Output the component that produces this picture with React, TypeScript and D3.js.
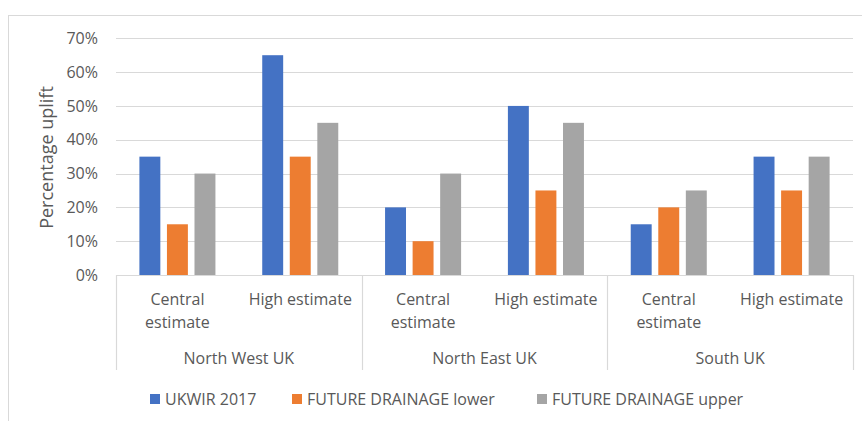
import React from "react";
import * as d3 from "d3";

// Regions (outer category level) and estimate types (inner level)
const regions = ["North West UK", "North East UK", "South UK"];
const estimateLines = [["Central", "estimate"], ["High estimate"]];

// Series values in percent, one per region × estimate
const seriesNames = ["UKWIR 2017", "FUTURE DRAINAGE lower", "FUTURE DRAINAGE upper"];
const seriesColors = ["#4472C4", "#ED7D31", "#A5A5A5"];
const ukwir2017 = [35, 65, 20, 50, 15, 35];
const futureDrainageLower = [15, 35, 10, 25, 20, 25];
const futureDrainageUpper = [30, 45, 30, 45, 25, 35];

const yTicks = [0, 10, 20, 30, 40, 50, 60, 70];

const W = 862;
const H = 421;
const plot = { left: 116, right: 853, top: 38.3, bottom: 275 };
const TEXT = "#595959";
const GRID = "#D9D9D9";
const FONT = "'Open Sans', sans-serif";

export default function App() {
  const series = [ukwir2017, futureDrainageLower, futureDrainageUpper];
  const cells = regions.flatMap((r, ri) => estimateLines.map((_, ei) => `${ri}-${ei}`));

  const x0 = d3.scaleBand<string>().domain(cells).range([plot.left, plot.right]);
  const bw = x0.bandwidth();
  const padOut = 23.4;
  const x1 = d3
    .scaleBand<string>()
    .domain(seriesNames)
    .range([padOut, bw - padOut])
    .paddingInner(0.24);
  const y = d3.scaleLinear().domain([0, 70]).range([plot.bottom, plot.top]);

  const regionX = d3
    .scaleBand<string>()
    .domain(regions)
    .range([plot.left, plot.right]);

  const sepY2 = 370;

  return (
    <div style={{ position: "absolute", left: 0, top: 0 }}>
      <svg width={W} height={H} style={{ display: "block", background: "#fff" }} fontFamily={FONT}>
        {/* chart frame */}
        <rect x={8.5} y={15.5} width={W + 10} height={H + 10} fill="none" stroke={GRID} strokeWidth={1} />

        {/* horizontal gridlines */}
        {yTicks.map((t) => (
          <line
            key={`g${t}`}
            x1={plot.left}
            x2={plot.right}
            y1={Math.round(y(t)) + 0.5}
            y2={Math.round(y(t)) + 0.5}
            stroke={GRID}
            strokeWidth={1.2}
          />
        ))}

        {/* y tick labels */}
        {yTicks.map((t) => (
          <text key={`t${t}`} x={98} y={y(t) + 5.6} textAnchor="end" fontSize={16} fill={TEXT}>
            {`${t}%`}
          </text>
        ))}

        {/* y axis title */}
        <text
          transform={`translate(52.5,157.5) rotate(-90)`}
          textAnchor="middle"
          fontSize={18}
          fill={TEXT}
        >
          Percentage uplift
        </text>

        {/* bars */}
        {cells.map((c, ci) =>
          series.map((vals, si) => (
            <rect
              key={`b${c}-${si}`}
              x={(x0(c) as number) + (x1(seriesNames[si]) as number)}
              y={y(vals[ci])}
              width={x1.bandwidth()}
              height={y(0) - y(vals[ci])}
              fill={seriesColors[si]}
            />
          ))
        )}

        {/* region separators below axis */}
        {[...regions.map((r) => regionX(r) as number), plot.right].map((xv, i) => (
          <line
            key={`s${i}`}
            x1={Math.round(xv) + 0.5}
            x2={Math.round(xv) + 0.5}
            y1={plot.bottom}
            y2={sepY2}
            stroke={GRID}
            strokeWidth={1.2}
          />
        ))}

        {/* estimate labels */}
        {cells.map((c, ci) => {
          const lines = estimateLines[ci % estimateLines.length];
          const cx = (x0(c) as number) + bw / 2;
          return (
            <text key={`e${c}`} textAnchor="middle" fontSize={16} fill={TEXT}>
              {lines.map((ln, li) => (
                <tspan key={li} x={cx} y={304.5 + li * 23.5}>
                  {ln}
                </tspan>
              ))}
            </text>
          );
        })}

        {/* region labels */}
        {regions.map((r) => (
          <text
            key={`r${r}`}
            x={(regionX(r) as number) + regionX.bandwidth() / 2}
            y={363.5}
            textAnchor="middle"
            fontSize={16}
            fill={TEXT}
          >
            {r}
          </text>
        ))}

        {/* legend */}
        {seriesNames.map((name, i) => {
          const lx = [150, 292, 537][i];
          return (
            <g key={`l${i}`}>
              <rect x={lx} y={394} width={10} height={10} fill={seriesColors[i]} />
              <text x={lx + 15} y={404.5} fontSize={16} fill={TEXT}>
                {name}
              </text>
            </g>
          );
        })}
      </svg>
    </div>
  );
}
